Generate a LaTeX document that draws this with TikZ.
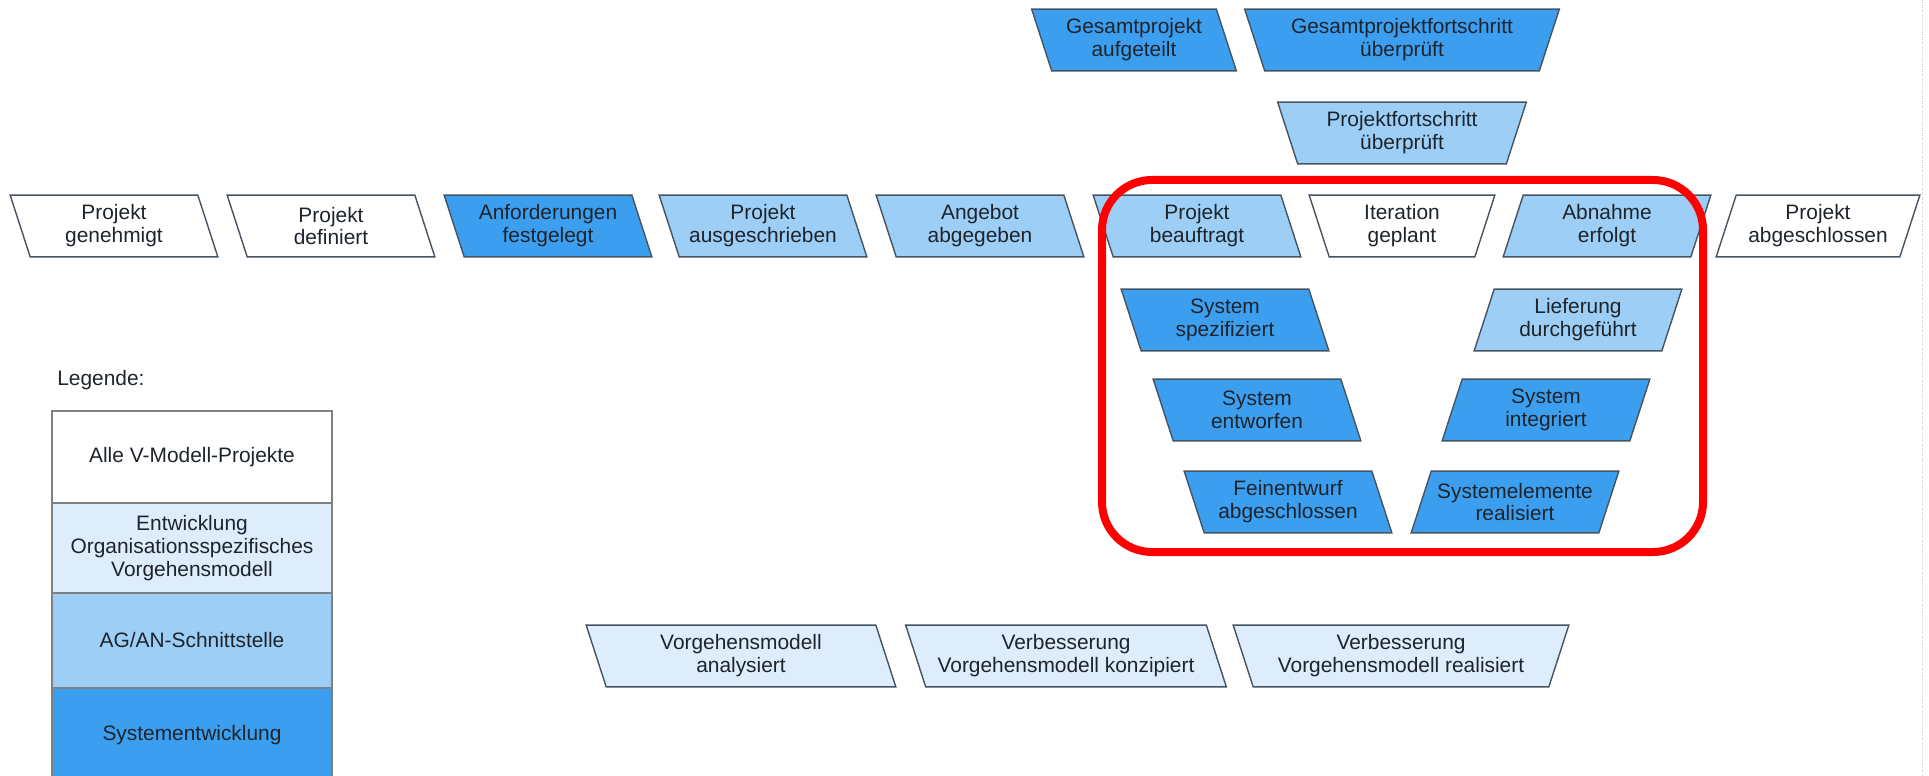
\documentclass[tikz,border=0pt]{standalone}
\usepackage{fontspec}
\setmainfont{Liberation Sans}
\usetikzlibrary{backgrounds}
\definecolor{sysblue}{RGB}{60,158,238}
\definecolor{agblue}{RGB}{156,206,246}
\definecolor{orgblue}{RGB}{221,237,251}
\definecolor{edge}{RGB}{70,84,98}
\definecolor{ink}{RGB}{30,36,44}

\begin{document}
\begin{tikzpicture}
  [x=0.02cm,y=-0.02cm,
   every node/.style={align=center,inner sep=0pt,text=ink,font=\fontsize{11.9}{13}\selectfont,
     minimum width=3.74cm,minimum height=1.22cm},
   frame/.style={draw=edge,line width=0.8pt},
   legend/.style={draw=gray,line width=0.8pt,minimum width=5.6cm}]
  \useasboundingbox (0,0) rectangle (1929,776);

  % gesamtprojekt
  \node[minimum width=3.68cm] (aufgeteilt) at (1134,40) {Gesamtprojekt\\aufgeteilt};
  \node[minimum width=5.88cm] (gesamtgeprueft) at (1402,40) {Gesamtprojektfortschritt\\überprüft};
  \node[minimum width=4.56cm] (geprueft) at (1402,133) {Projektfortschritt\\überprüft};

  % main row
  \node (genehmigt) at (114,226) {Projekt\\genehmigt};
  \node (definiert) at (331,226) {Projekt\\definiert};
  \node (festgelegt) at (548,226) {Anforderungen\\festgelegt};
  \node (ausgeschrieben) at (763,226) {Projekt\\ausgeschrieben};
  \node (abgegeben) at (980,226) {Angebot\\abgegeben};
  \node (beauftragt) at (1197,226) {Projekt\\beauftragt};
  \node[minimum width=3.3cm] (geplant) at (1402,226) {Iteration\\geplant};
  \node (erfolgt) at (1607,226) {Abnahme\\erfolgt};
  \node[minimum width=3.66cm] (abgeschlossen) at (1818,226) {Projekt\\abgeschlossen};

  % the V
  \node (spezifiziert) at (1225,320) {System\\spezifiziert};
  \node (durchgefuehrt) at (1578,320) {Lieferung\\durchgeführt};
  \node (entworfen) at (1257,410) {System\\entworfen};
  \node (integriert) at (1546,410) {System\\integriert};
  \node (feinentwurf) at (1288,502) {Feinentwurf\\abgeschlossen};
  \node (realisiert) at (1515,502) {Systemelemente\\realisiert};

  % organisation
  \node[minimum width=5.78cm] (analysiert) at (741,656) {Vorgehensmodell\\analysiert};
  \node[minimum width=6cm] (konzipiert) at (1066,656) {Verbesserung\\Vorgehensmodell konzipiert};
  \node[minimum width=6.3cm] (vmrealisiert) at (1401,656) {Verbesserung\\Vorgehensmodell realisiert};

  \begin{scope}[on background layer]
  \foreach \n/\c/\a/\b in {aufgeteilt/sysblue/-1/-1, gesamtgeprueft/sysblue/-1/1, geprueft/agblue/-1/1,
      genehmigt/white/-1/-1, definiert/white/-1/-1, festgelegt/sysblue/-1/-1,
      ausgeschrieben/agblue/-1/-1, abgegeben/agblue/-1/-1, beauftragt/agblue/-1/-1,
      geplant/white/-1/1, erfolgt/agblue/1/1, abgeschlossen/white/1/1,
      spezifiziert/sysblue/-1/-1, durchgefuehrt/agblue/1/1, entworfen/sysblue/-1/-1,
      integriert/sysblue/1/1, feinentwurf/sysblue/-1/-1, realisiert/sysblue/1/1,
      analysiert/orgblue/-1/-1, konzipiert/orgblue/-1/-1, vmrealisiert/orgblue/-1/1}
    \draw[frame,fill=\c] ([xshift=\a*0.2cm]\n.north west) -- ([xshift=\b*0.2cm]\n.north east)
      -- ([xshift=-(\b)*0.2cm]\n.south east) -- ([xshift=-(\a)*0.2cm]\n.south west) -- cycle;
  \end{scope}

  % legend
  \node[anchor=west,minimum width=0pt,minimum height=0pt] (legende) at (57,380) {Legende:};
  \node[legend,fill=white,minimum height=1.84cm] (alle) at (192,457) {Alle V-Modell-Projekte};
  \node[legend,fill=orgblue,minimum height=1.8cm] (orga) at (192,548) {Entwicklung\\Organisationsspezifisches\\Vorgehensmodell};
  \node[legend,fill=agblue,minimum height=1.9cm] (agan) at (192,640.5) {AG/AN-Schnittstelle};
  \node[legend,fill=sysblue,minimum height=1.9cm] (system) at (192,735.5) {Systementwicklung};

  \draw[gray!40,densely dotted] (1922,0) -- (1922,776);
  \draw[red,line width=0.16cm,rounded corners=1cm] (1102,180) rectangle (1703,552);
\end{tikzpicture}
\end{document}
